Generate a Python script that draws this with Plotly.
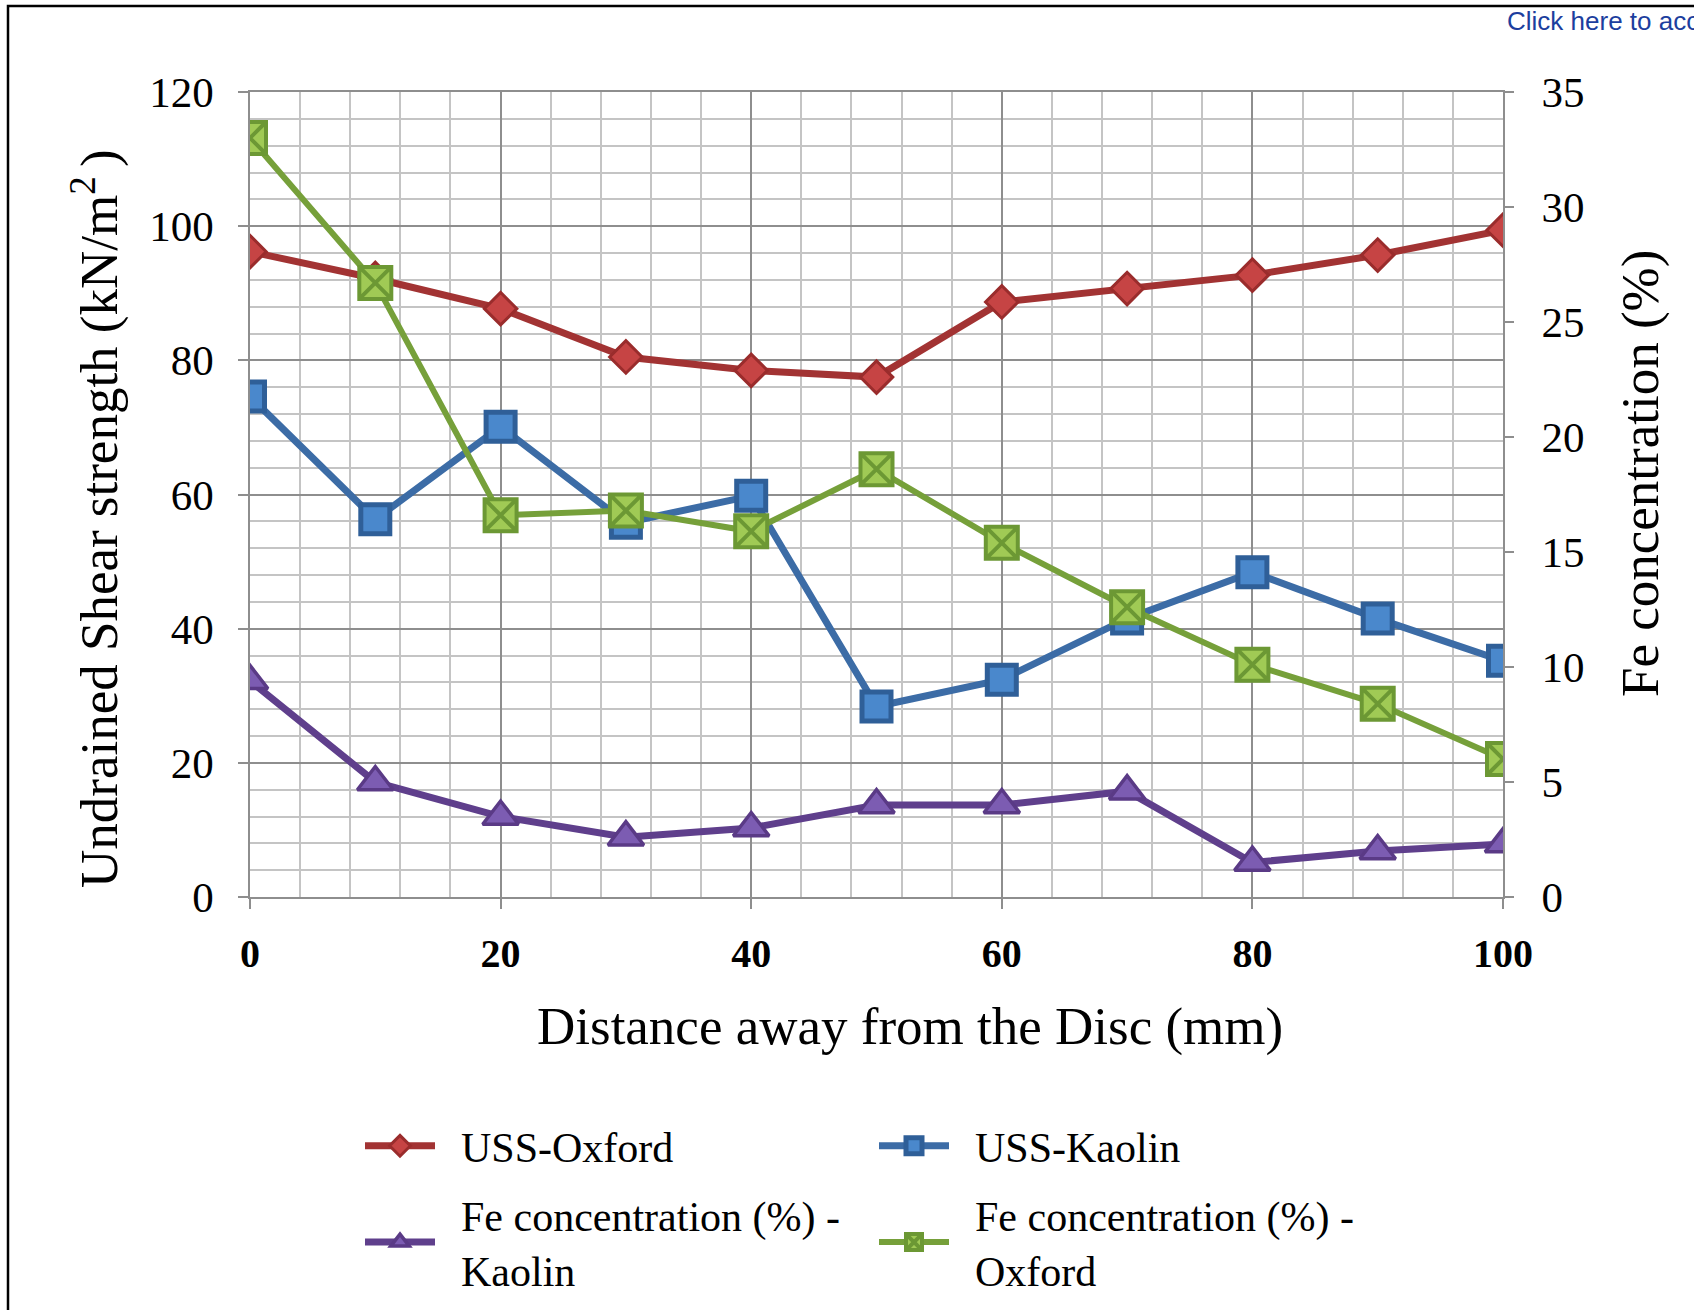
import plotly.graph_objects as go

# Distance from the disc (mm)
distance = [0, 10, 20, 30, 40, 50, 60, 70, 80, 90, 100]

# Undrained shear strength (kN/m2), left axis
uss_oxford = [96.2, 92.2, 87.7, 80.5, 78.5, 77.5, 88.7, 90.7, 92.7, 95.7, 99.4]
uss_kaolin = [74.6, 56.3, 70.1, 55.8, 59.8, 28.4, 32.4, 41.5, 48.4, 41.5, 35.2]

# Fe concentration (%), right axis
fe_kaolin = [9.4, 5.0, 3.5, 2.6, 3.0, 4.0, 4.0, 4.6, 1.5, 2.0, 2.3]
fe_oxford = [33.0, 26.7, 16.6, 16.8, 15.9, 18.6, 15.4, 12.6, 10.1, 8.4, 6.0]

x_ticks = [0, 20, 40, 60, 80, 100]
left_ticks = [0, 20, 40, 60, 80, 100, 120]
right_ticks = [0, 5, 10, 15, 20, 25, 30, 35]

W, H = 1694, 1310
L, R, T, B = 250, 1503, 92, 897  # plot area in pixels
PW, PH = R - L, B - T


def px(xp):
    return (xp - L) / PW


def py(yp):
    return (B - yp) / PH


SERIF = "Liberation Serif"
GAP = "\u00a0\u00a0"  # extra room between legend symbol and its label

fig = go.Figure()

fig.add_trace(go.Scatter(
    x=distance, y=uss_oxford, name=GAP + "USS-Oxford", mode="lines+markers",
    line=dict(color="#a23333", width=7),
    marker=dict(symbol="diamond", size=25, color="#c64444",
                line=dict(color="#9a2c2c", width=3)),
    yaxis="y", legend="legend",
))
fig.add_trace(go.Scatter(
    x=distance, y=uss_kaolin, name=GAP + "USS-Kaolin", mode="lines+markers",
    line=dict(color="#3c6ca6", width=7),
    marker=dict(symbol="square", size=29, color="#4a88cc",
                line=dict(color="#2f5f98", width=5)),
    yaxis="y", legend="legend",
))
fig.add_trace(go.Scatter(
    x=distance, y=fe_kaolin,
    name=GAP + "Fe concentration (%) -<br>" + GAP + "Kaolin",
    mode="lines+markers",
    line=dict(color="#5f3f8c", width=7),
    marker=dict(symbol="triangle-up", size=31, color="#7c5cb2",
                line=dict(color="#5a3a86", width=3.5)),
    yaxis="y2", legend="legend2",
))
fig.add_trace(go.Scatter(
    x=distance, y=fe_oxford,
    name=GAP + "Fe concentration (%) -<br>" + GAP + "Oxford",
    mode="lines+markers",
    line=dict(color="#76a03a", width=6),
    marker=dict(symbol="square-x", size=32, color="#a0ca55",
                line=dict(color="#6c9834", width=4)),
    yaxis="y2", legend="legend2",
))

grid_major = "#8e8e8e"
grid_minor = "#c4c4c4"

legend_common = dict(
    orientation="h", xanchor="left", yanchor="top",
    entrywidth=429, entrywidthmode="pixels", itemwidth=70,
    font=dict(family=SERIF, size=42, color="black"),
    bgcolor="rgba(0,0,0,0)", traceorder="normal", valign="middle",
)

fig.update_layout(
    width=W, height=H,
    margin=dict(l=L, r=W - R, t=T, b=H - B, autoexpand=False),
    paper_bgcolor="white", plot_bgcolor="white",
    font=dict(family=SERIF, color="black"),
    showlegend=True,
    xaxis=dict(
        range=[0, 100], tickvals=x_ticks, ticks="outside", ticklen=10,
        tickcolor=grid_major, tickwidth=1.5,
        showgrid=True, gridcolor=grid_major, gridwidth=1.5,
        minor=dict(dtick=4, tick0=0, showgrid=True, gridcolor=grid_minor, gridwidth=1.5),
        showline=True, linecolor=grid_major, linewidth=1.5, mirror=True,
        zeroline=False,
        tickfont=dict(family=SERIF, size=40, color="black", weight="bold"),
        ticklabelstandoff=10,
    ),
    yaxis=dict(
        range=[0, 120], tickvals=left_ticks, ticks="outside", ticklen=10,
        tickcolor=grid_major, tickwidth=1.5,
        showgrid=True, gridcolor=grid_major, gridwidth=1.5,
        minor=dict(dtick=4, tick0=0, showgrid=True, gridcolor=grid_minor, gridwidth=1.5),
        showline=True, linecolor=grid_major, linewidth=1.5, mirror=True,
        zeroline=False,
        tickfont=dict(family=SERIF, size=43, color="black"),
        ticklabelstandoff=16,
    ),
    yaxis2=dict(
        range=[0, 35], tickvals=right_ticks, overlaying="y", side="right",
        ticks="outside", ticklen=10, tickcolor=grid_major, tickwidth=1.5,
        showgrid=False, zeroline=False, showline=False,
        tickfont=dict(family=SERIF, size=43, color="black"),
        ticklabelstandoff=19,
    ),
    legend=dict(x=px(360), y=py(1112), **legend_common),
    legend2=dict(x=px(360), y=py(1181), **legend_common),
)

annotations = [
    dict(text="Distance away from the Disc (mm)", x=px(910), y=py(1026),
         font=dict(family=SERIF, size=53, color="black")),
    dict(text="Undrained Shear strength (kN/m<sup>2 </sup>)", x=px(95), y=py(519),
         textangle=-90, font=dict(family=SERIF, size=53, color="black")),
    dict(text="Fe concentration (%)", x=px(1640), y=py(474),
         textangle=-90, font=dict(family=SERIF, size=53, color="black")),
    dict(text="Click here to acc", x=px(1505), y=py(21), xanchor="left",
         font=dict(family="Liberation Sans", size=26, color="#1c3e9e")),
]
for a in annotations:
    a.setdefault("xanchor", "center")
    a.update(xref="paper", yref="paper", yanchor="middle", showarrow=False)
fig.update_layout(annotations=annotations)

# Outer frame around the figure panel
fig.add_shape(type="path", xref="paper", yref="paper",
              path=f"M {px(8)},{py(1330)} L {px(8)},{py(6)} L {px(1720)},{py(6)}",
              line=dict(color="black", width=2.5))

fig.write_html("out.html")
